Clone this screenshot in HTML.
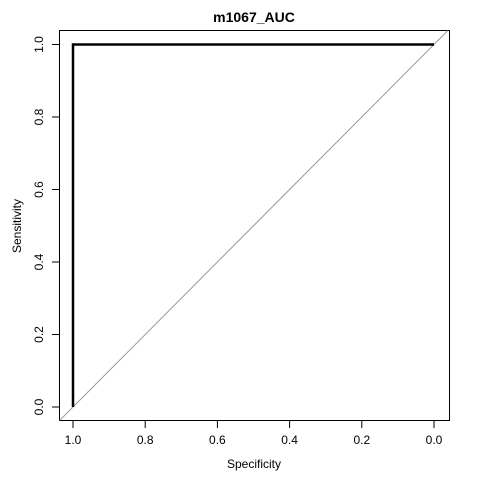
<!DOCTYPE html>
<html><head><meta charset="utf-8"><style>
html,body{margin:0;padding:0;background:#fff;}
svg{display:block;font-family:"Liberation Sans",Arial,sans-serif;}
</style></head><body>
<svg id="chart" width="480" height="480" viewBox="0 0 480 480" xmlns="http://www.w3.org/2000/svg">
<defs><clipPath id="clip"><rect x="59.5" y="30.5" width="390" height="390"/></clipPath></defs>
<text x="254" y="22" text-anchor="middle" font-size="14" font-weight="bold">m1067_AUC</text>
<rect x="59.5" y="30.5" width="390" height="390" fill="none" stroke="#000" stroke-width="1"/>
<g id="xaxis"></g>
<g id="yaxis"></g>
<text x="254" y="468" text-anchor="middle" font-size="12">Specificity</text>
<text transform="translate(21,226) rotate(-90)" text-anchor="middle" font-size="12">Sensitivity</text>
<g id="marks" clip-path="url(#clip)"></g>
</svg>
<script>
const specificity = [1, 1, 0];
const sensitivity = [0, 1, 1];
const xTicks = [1.0, 0.8, 0.6, 0.4, 0.2, 0.0];
const yTicks = [0.0, 0.2, 0.4, 0.6, 0.8, 1.0];
const xTickLabels = ["1.0", "0.8", "0.6", "0.4", "0.2", "0.0"];
const yTickLabels = ["0.0", "0.2", "0.4", "0.6", "0.8", "1.0"];

const NS = "http://www.w3.org/2000/svg";
function sx(s){ return 434 - 361*s; }
function sy(v){ return 407 - 362.5*v; }
function mk(tag, attrs){ const e=document.createElementNS(NS,tag); for(const k in attrs) e.setAttribute(k, attrs[k]); return e; }

const xa=document.getElementById('xaxis'), ya=document.getElementById('yaxis'), marks=document.getElementById('marks');
xTicks.forEach((t,i)=>{
  const x=sx(t);
  const tk=mk('line',{x1:x,x2:x,y1:420.5,y2:428,stroke:'#000'});
  
  
  xa.appendChild(tk);
  const lb=mk('text',{x:x,y:444,'text-anchor':'middle','font-size':12});
  
  
  lb.textContent=xTickLabels[i];
  xa.appendChild(lb);
});
yTicks.forEach((t,i)=>{
  const y=sy(t);
  const tk=mk('line',{x1:52,x2:59.5,y1:y,y2:y,stroke:'#000'});
  
  
  ya.appendChild(tk);
  const lb=mk('text',{transform:'translate(43,'+y+') rotate(-90)','text-anchor':'middle','font-size':12});
  
  
  lb.textContent=yTickLabels[i];
  ya.appendChild(lb);
});
// diagonal reference line (sens = 1 - spec), extended and clipped
const diag=mk('line',{x1:sx(1.1),y1:sy(-0.1),x2:sx(-0.1),y2:sy(1.1),stroke:'#999','stroke-width':1});


marks.appendChild(diag);
const pts=specificity.map((s,i)=>sx(s)+','+sy(sensitivity[i])).join(' ');
const roc=mk('polyline',{points:pts,fill:'none',stroke:'#000','stroke-width':2.5});


marks.appendChild(roc);
</script>
</body></html>
